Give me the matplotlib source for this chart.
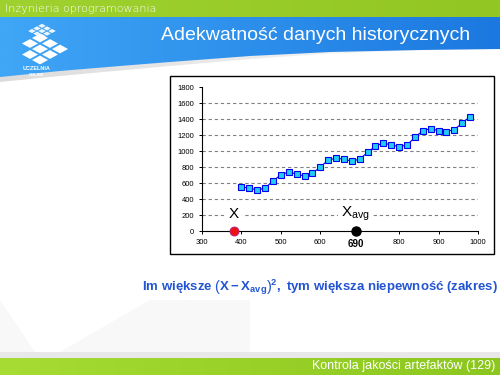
import numpy as np
import matplotlib.pyplot as plt
from matplotlib.patches import Polygon, Rectangle
from matplotlib import font_manager

plt.rcParams['font.family'] = ['Liberation Sans', 'DejaVu Sans']

names = {f.name for f in font_manager.fontManager.ttflist}
narrow = 'DejaVu Sans Condensed' if 'DejaVu Sans Condensed' in names else 'Liberation Sans'
plt.rcParams['mathtext.fontset'] = 'custom'
plt.rcParams['mathtext.rm'] = 'Liberation Sans'
plt.rcParams['mathtext.it'] = 'Liberation Sans'
plt.rcParams['mathtext.bf'] = narrow + ':bold'

# data
size_x = [400, 420, 440, 460, 480, 500, 520, 540, 560, 580,
          600, 620, 640, 660, 680, 700, 720, 740, 760, 780,
          800, 820, 840, 860, 880, 900, 920, 940, 960, 980]
effort = [550, 537, 512, 537, 625, 704, 737, 712, 687, 721,
          800, 887, 908, 900, 871, 900, 983, 1062, 1100, 1075,
          1054, 1075, 1171, 1254, 1279, 1254, 1242, 1267, 1350, 1429]
x_new = 380
x_avg = 690
y_ticks = [0, 200, 400, 600, 800, 1000, 1200, 1400, 1600, 1800]
x_ticks = [300, 400, 500, 600, 690, 800, 900, 1000]
grid_levels = [200, 400, 600, 800, 1000, 1200, 1400, 1600]

fig = plt.figure(figsize=(5, 3.75), dpi=100)

# ---- slide background ----
bg = fig.add_axes([0, 0, 1, 1])
bg.set_xlim(0, 500)
bg.set_ylim(375, 0)
bg.axis('off')

# faint background shapes
for pts in [[(0, 300), (35, 352), (0, 352)],
            [(60, 352), (150, 300), (180, 300), (250, 352)],
            [(180, 300), (250, 300), (250, 352)]]:
    bg.add_patch(Polygon(pts, closed=True, fc='#f8f8f8', ec='none'))


def gradient(ax, extent, c1, c2, clip=None):
    g = np.linspace(0, 1, 256)[None, :, None]
    a = np.array(plt.matplotlib.colors.to_rgb(c1))
    b = np.array(plt.matplotlib.colors.to_rgb(c2))
    img = a * (1 - g) + b * g
    im = ax.imshow(img, extent=extent, aspect='auto', zorder=1)
    if clip is not None:
        im.set_clip_path(clip)
    return im


# header green bar
gradient(bg, (0, 500, 17, 0), '#9fd22e', '#92c622')
# blue band with curved bottom, light grey swoosh under it
cx = np.array([0, 60, 120, 170, 250, 330, 420, 500])
cy = np.array([77, 71, 66, 62, 56, 52, 50, 49])
sh = np.array([5, 5, 4.5, 4, 3, 1.5, 0.5, 0])
shadow = Polygon(list(zip(cx, cy + sh)) + [(500, 17), (0, 17)], closed=True,
                 fc='none', ec='none')
bg.add_patch(shadow)
gradient(bg, (0, 500, 90, 17), '#dcdcdc', '#fbfbfb', clip=shadow)
band = Polygon([(0, 17)] + list(zip(cx, cy)) + [(500, 17)], closed=True,
               fc='none', ec='none')
bg.add_patch(band)
gradient(bg, (0, 500, 77, 17), '#40a6f6', '#1b78e0', clip=band)

# footer
bg.add_patch(Rectangle((0, 352), 500, 6, fc='#e8e8e8', ec='none', zorder=1))
gradient(bg, (0, 500, 375, 358), '#a6dc34', '#8cc61e')

# logo: tiles in perspective
def tile(x0, y0, s, alpha=1.0):
    bg.add_patch(Polygon([(x0, y0 - s * 0.55), (x0 + s, y0), (x0, y0 + s * 0.55), (x0 - s, y0)],
                         closed=True, fc='white', ec='none', zorder=2, alpha=alpha))


for i in range(3):
    for j in range(3):
        if i == 0 and j == 0:
            continue
        tile(20 + i * 10 + j * 10, 49 - i * 5.5 + j * 5.5, 8)
for i in range(3):
    for j in range(3):
        tile(32 + i * 5 + j * 5, 31 - i * 2.6 + j * 2.6, 3.8, 0.9)
bg.text(37, 69, 'UCZELNIA', color='white', fontsize=4, fontweight='bold',
        ha='center', va='center', zorder=3)
bg.text(37, 75, 'ONLINE', color='white', fontsize=3, fontweight='bold',
        ha='center', va='center', zorder=3)

bg.text(5, 8.5, 'Inżynieria oprogramowania', color='white', fontsize=8.0,
        family='DejaVu Sans', fontweight='light', va='center', ha='left', zorder=3)
bg.text(470, 35, 'Adekwatność danych historycznych', color='white', fontsize=14,
        va='center', ha='right', zorder=3)
bg.text(495, 366, 'Kontrola jakości artefaktów (129)', color='white', fontsize=9,
        va='center', ha='right', zorder=3)

# chart frame
bg.add_patch(Rectangle((170, 76), 324, 178, fc='white', ec='black', lw=1, zorder=2))

bg.text(320, 287, r'$\mathbf{Im\ większe\ \left(X - X_{avg}\right)^{2},\ tym\ większa\ niepewność\ (zakres)}$',
        color='#2354d2', fontsize=9.5, ha='center', va='center', zorder=3)

# ---- chart ----
ax = fig.add_axes([202 / 500, 1 - 231 / 375, 276 / 500, 144 / 375])
ax.set_facecolor('none')
ax.set_xlim(300, 1000)
ax.set_ylim(0, 1800)
for s in ['top', 'right']:
    ax.spines[s].set_visible(False)
for s in ['left', 'bottom']:
    ax.spines[s].set_linewidth(0.8)

for lv in grid_levels:
    ax.axhline(lv, color='#808080', lw=0.8, ls=(0, (3, 2.5)), zorder=1)

ax.plot(size_x, effort, color='#0000ee', lw=0.8, marker='s', markersize=4.8,
        markerfacecolor='#22ccf5', markeredgecolor='#0000ee', markeredgewidth=0.8, zorder=3)

ax.set_xticks(x_ticks)
ax.set_yticks(y_ticks)
ax.set_xticklabels([str(v) for v in x_ticks])
ax.set_yticklabels([str(v) for v in y_ticks])
ax.tick_params(length=2.5, width=0.7, labelsize=5.5, pad=3)
for lbl, v in zip(ax.get_xticklabels(), x_ticks):
    if v == x_avg:
        lbl.set_fontweight('bold')
        lbl.set_fontsize(7)

ax.plot([x_new], [0], 'o', color='#ee1111', mec='#aa2288', mew=0.6, markersize=6.5,
        clip_on=False, zorder=5)
ax.plot([x_avg], [0], 'o', color='black', markersize=6.5, clip_on=False, zorder=5)

ax.text(x_new, 215, 'X', fontsize=11, ha='center', va='center',
        bbox=dict(fc='white', ec='none', pad=3), zorder=4)
ax.text(x_avg - 2, 215, r'$\mathrm{X_{avg}}$', fontsize=11, ha='center', va='center',
        bbox=dict(fc='white', ec='none', pad=2), zorder=4)

fig.savefig('out.png', dpi=100)
